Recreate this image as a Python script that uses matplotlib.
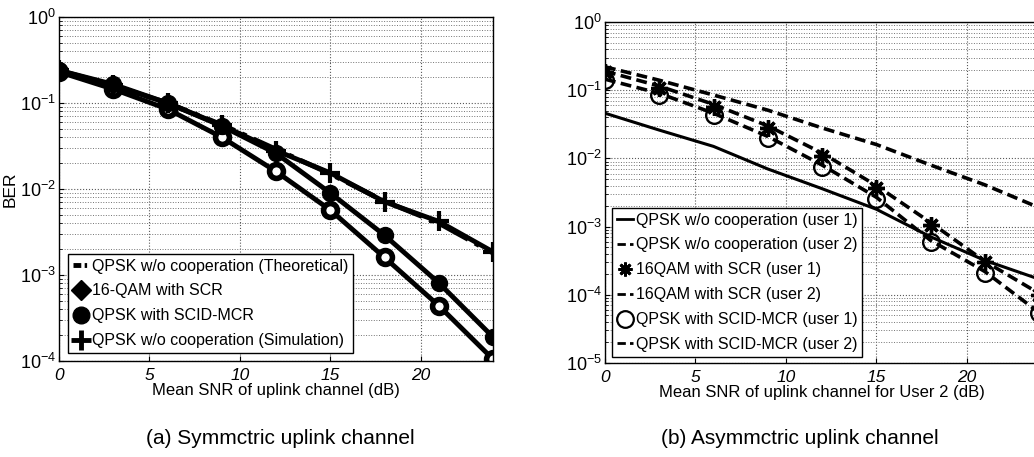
import matplotlib
matplotlib.use("Agg")
import matplotlib.pyplot as plt
from matplotlib.lines import Line2D
from matplotlib.ticker import LogLocator, FixedLocator, NullFormatter

plt.rcParams['font.family'] = ['Liberation Sans', 'DejaVu Sans']
plt.rcParams['mathtext.fontset'] = 'custom'
plt.rcParams['mathtext.rm'] = 'Liberation Sans'
plt.rcParams['mathtext.it'] = 'Liberation Sans:italic'
plt.rcParams['mathtext.default'] = 'regular'

# ---------------- data ----------------
snr = [0, 3, 6, 9, 12, 15, 18, 21, 24]

# (a) symmetric uplink channel
a_theory = [0.23, 0.16, 0.10, 0.056, 0.029, 0.015, 0.0072, 0.0040, 0.0018]
a_qam_scr = [0.23, 0.145, 0.085, 0.040, 0.016, 0.0057, 0.0016, 0.00044, 0.000105]
a_qpsk_scid = [0.24, 0.165, 0.10, 0.054, 0.026, 0.0090, 0.0029, 0.00081, 0.00019]
a_sim = [0.24, 0.16, 0.10, 0.055, 0.028, 0.0154, 0.0071, 0.0042, 0.00186]
a_labels = ["QPSK w/o cooperation (Theoretical)", "16-QAM with SCR",
            "QPSK with SCID-MCR", "QPSK w/o cooperation (Simulation)"]

# (b) asymmetric uplink channel
b_qpsk_u1 = [0.046, 0.026, 0.015, 0.0070, 0.0036, 0.0018, 0.00071, 0.00032, 0.00017]
b_qpsk_u2 = [0.22, 0.14, 0.085, 0.051, 0.028, 0.016, 0.008, 0.0041, 0.0019]
b_qam_u1 = [0.185, 0.107, 0.057, 0.028, 0.011, 0.0037, 0.00106, 0.00030, 0.0001]
b_qam_u2 = [0.19, 0.115, 0.062, 0.030, 0.012, 0.0040, 0.00115, 0.00031, 0.000105]
b_scid_u1 = [0.14, 0.085, 0.043, 0.020, 0.0075, 0.0025, 0.00059, 0.00021, 0.000054]
b_scid_u2 = [0.145, 0.09, 0.046, 0.021, 0.0080, 0.0027, 0.00063, 0.00022, 0.000055]
b_labels = ["QPSK w/o cooperation (user 1)", "QPSK w/o cooperation (user 2)",
            "16QAM with SCR (user 1)", "16QAM with SCR (user 2)",
            "QPSK with SCID-MCR (user 1)", "QPSK with SCID-MCR (user 2)"]

xticks = [0, 5, 10, 15, 20]
W, H = 1034, 457
fig = plt.figure(figsize=(W / 100, H / 100), dpi=100)


def make_ax(l, t, r, b):
    return fig.add_axes([l / W, 1 - b / H, (r - l) / W, (b - t) / H])


def style(ax, ymin):
    ax.set_yscale('log')
    ax.set_xlim(0, 24)
    ax.set_ylim(ymin, 1)
    ax.xaxis.set_major_locator(FixedLocator(xticks))
    ax.yaxis.set_major_locator(LogLocator(base=10, numticks=10))
    ax.yaxis.set_minor_locator(LogLocator(base=10, subs=range(2, 10), numticks=20))
    ax.yaxis.set_minor_formatter(NullFormatter())
    ax.grid(True, which='major', color='0.35', linestyle=':', linewidth=0.8)
    ax.grid(True, which='minor', axis='y', color='0.45', linestyle=':', linewidth=0.7)
    ax.tick_params(which='both', direction='in')
    ax.tick_params(axis='y', labelsize=13, pad=2)
    ax.tick_params(axis='x', labelsize=12.5, pad=5)
    for lab in ax.get_xticklabels():
        lab.set_fontstyle('italic')
    for s in ax.spines.values():
        s.set_linewidth(1.0)


# ---------- panel (a) ----------
ax1 = make_ax(59, 17, 493, 361)
style(ax1, 1e-4)
ax1.plot(snr, a_theory, color='black', lw=3.5, ls='-.')
ax1.plot(snr, a_qam_scr, color='black', lw=3.5, marker='o', ms=10,
         mfc='white', mec='black', mew=4)
ax1.plot(snr, a_qpsk_scid, color='black', lw=3.5, marker='o', ms=11.5, mfc='black')
ax1.plot(snr, a_sim, color='black', lw=3.5, marker='+', ms=14, mew=3)
ax1.set_xlabel("Mean SNR of uplink channel (dB)", fontsize=12, labelpad=0)
ax1.set_ylabel("BER", fontsize=12.5, labelpad=2)

hA = [Line2D([], [], color='black', lw=3.5, ls=(0, (1.6, 0.7, 0.5, 0.7))),
      Line2D([], [], color='black', ls='none', marker='D', ms=10, mfc='black'),
      Line2D([], [], color='black', ls='none', marker='o', ms=12, mfc='black'),
      Line2D([], [], color='black', ls='none', marker='+', ms=14, mew=3.5)]
legA = ax1.legend(hA, a_labels, loc='lower left', bbox_to_anchor=(0.021, 0.023),
                  borderaxespad=0, fontsize=11.5, handlelength=1.0, handletextpad=0.2,
                  labelspacing=0.62, borderpad=0.3, fancybox=False, framealpha=1,
                  edgecolor='black')
legA.get_frame().set_linewidth(1.0)

# ---------- panel (b) ----------
ax2 = make_ax(605, 22, 1039, 363)
style(ax2, 1e-5)
ax2.plot(snr, b_qpsk_u1, color='black', lw=2.2)
ax2.plot(snr, b_qpsk_u2, color='black', lw=2.6, ls=(0, (3, 1.5)))
ax2.plot(snr, b_qam_u2, color='black', lw=2.6, ls=(0, (3, 1.5)))
ax2.plot(snr, b_scid_u2, color='black', lw=2.6, ls=(0, (3, 1.5)))
ax2.plot(snr, b_qam_u1, color='black', ls='none', marker=(8, 2, 0), ms=12, mew=2.4)
ax2.plot(snr, b_scid_u1, color='black', ls='none', marker='o', ms=12,
         mfc='none', mew=1.7)
ax2.set_xlabel("Mean SNR of uplink channel for User 2 (dB)", fontsize=12, labelpad=0)

hB = [Line2D([], [], color='black', lw=2),
      Line2D([], [], color='black', lw=2, ls=(0, (3, 1.5))),
      Line2D([], [], color='black', ls='none', marker=(8, 2, 0), ms=10, mew=2),
      Line2D([], [], color='black', lw=2, ls=(0, (3, 1.5))),
      Line2D([], [], color='black', ls='none', marker='o', ms=12, mfc='none', mew=1.6),
      Line2D([], [], color='black', lw=2, ls=(0, (3, 1.5)))]
legB = ax2.legend(hB, b_labels, loc='lower left', bbox_to_anchor=(0.016, 0.018),
                  borderaxespad=0, fontsize=11.5, handlelength=1.0, handletextpad=0.2,
                  labelspacing=0.62, borderpad=0.3, fancybox=False, framealpha=1,
                  edgecolor='black')
legB.get_frame().set_linewidth(1.0)

# captions
fig.text(280 / W, 1 - 438 / H, "(a) Symmctric uplink channel", fontsize=15,
         ha='center', va='center')
fig.text(800 / W, 1 - 438 / H, "(b) Asymmctric uplink channel", fontsize=15,
         ha='center', va='center')

fig.savefig("out.png", dpi=100)
